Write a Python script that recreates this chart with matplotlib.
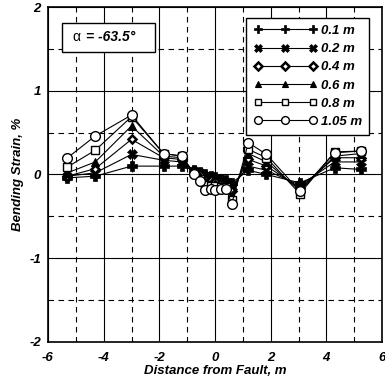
import numpy as np
import matplotlib.pyplot as plt
from matplotlib.ticker import MultipleLocator
from matplotlib.patches import Rectangle

plt.rcParams['font.family'] = ['Liberation Sans', 'DejaVu Sans']
plt.rcParams['font.weight'] = 'bold'
plt.rcParams['font.style'] = 'italic'
plt.rcParams['axes.labelweight'] = 'bold'
plt.rcParams['axes.unicode_minus'] = False

# distance from fault (m)
distance = [-5.3, -4.3, -3.0, -1.85, -1.2, -0.75, -0.55, -0.35, -0.15, 0.0,
            0.2, 0.4, 0.6, 1.2, 1.85, 3.05, 4.3, 5.25]

# bending strain (%) for each depth
strain_01 = [-0.04, -0.02, 0.10, 0.10, 0.10, 0.05, 0.03, 0.00, -0.02, -0.03,
             -0.05, -0.07, -0.10, 0.05, 0.00, -0.10, 0.08, 0.06]
strain_02 = [-0.02, 0.02, 0.24, 0.17, 0.15, 0.04, 0.02, -0.02, -0.04, -0.05,
             -0.07, -0.09, -0.15, 0.10, 0.05, -0.13, 0.15, 0.15]
strain_04 = [-0.02, 0.07, 0.42, 0.20, 0.18, 0.03, 0.00, -0.05, -0.07, -0.08,
             -0.10, -0.11, -0.20, 0.18, 0.10, -0.16, 0.20, 0.20]
strain_06 = [0.02, 0.15, 0.58, 0.22, 0.20, 0.02, -0.02, -0.08, -0.10, -0.10,
             -0.12, -0.13, -0.25, 0.25, 0.15, -0.19, 0.22, 0.25]
strain_08 = [0.09, 0.29, 0.69, 0.25, 0.22, 0.02, -0.05, -0.12, -0.14, -0.14,
             -0.15, -0.15, -0.30, 0.30, 0.20, -0.23, 0.27, 0.28]
strain_105 = [0.20, 0.46, 0.71, 0.25, 0.22, 0.00, -0.08, -0.18, -0.17, -0.18,
              -0.17, -0.17, -0.35, 0.38, 0.24, -0.20, 0.26, 0.28]

labels = ['0.1 m', '0.2 m', '0.4 m', '0.6 m', '0.8 m', '1.05 m']
series = [strain_01, strain_02, strain_04, strain_06, strain_08, strain_105]

styles = [
    dict(marker='P', markersize=7, markerfacecolor='black', markeredgecolor='black', markeredgewidth=0.5),
    dict(marker='X', markersize=7, markerfacecolor='black', markeredgecolor='black', markeredgewidth=0.5),
    dict(marker='D', markersize=4.5, markerfacecolor='white', markeredgecolor='black', markeredgewidth=1.8),
    dict(marker='^', markersize=5.5, markerfacecolor='black', markeredgecolor='black', markeredgewidth=0.8),
    dict(marker='s', markersize=6, markerfacecolor='white', markeredgecolor='black', markeredgewidth=1.0),
    dict(marker='o', markersize=7, markerfacecolor='white', markeredgecolor='black', markeredgewidth=1.0),
]

fig = plt.figure(figsize=(3.85, 3.87), dpi=100)
ax = fig.add_axes([0.1247, 0.1163, 0.8675, 0.8656])

for y, lab, st in zip(series, labels, styles):
    ax.plot(distance, y, color='black', linewidth=0.8, label=lab, **st)

ax.set_xlim(-6, 6)
ax.set_ylim(-2, 2)
ax.xaxis.set_major_locator(MultipleLocator(2))
ax.xaxis.set_minor_locator(MultipleLocator(1))
ax.yaxis.set_major_locator(MultipleLocator(1))
ax.yaxis.set_minor_locator(MultipleLocator(0.5))

ax.grid(True, which='major', color='black', linestyle='-', linewidth=0.8)
ax.grid(True, which='minor', color='black', linestyle=(0, (5, 4)), linewidth=0.8)
ax.set_axisbelow(True)
ax.tick_params(which='both', length=0, labelsize=9.5)
ax.tick_params(axis='x', pad=7)
ax.tick_params(axis='y', pad=5)
for sp in ax.spines.values():
    sp.set_linewidth(1.2)

ax.set_xlabel('Distance from Fault, m', fontsize=9.5, labelpad=1)
ax.set_ylabel('Bending Strain, %', fontsize=9.5, labelpad=4)

leg = ax.legend(loc='upper right', numpoints=3, frameon=True, fancybox=False,
                edgecolor='black', framealpha=1, handlelength=4.8, handletextpad=0.3,
                labelspacing=0.45, borderpad=0.55, bbox_to_anchor=(0.982, 0.988),
                prop=dict(size=9.5, weight='bold', style='italic'), markerscale=0.8)
leg.get_frame().set_linewidth(1.0)

# angle annotation box
ax.add_patch(Rectangle((0.042, 0.866), 0.278, 0.086, transform=ax.transAxes,
                       facecolor='white', edgecolor='black', linewidth=1.0, zorder=5))
ax.text(0.085, 0.909, '\u03b1', transform=ax.transAxes, fontsize=10,
        fontweight='normal', fontstyle='normal', va='center', ha='center', zorder=6)
ax.text(0.115, 0.909, '= -63.5\u00b0', transform=ax.transAxes, fontsize=10,
        va='center', ha='left', zorder=6)

fig.savefig('out.png', dpi=100)
